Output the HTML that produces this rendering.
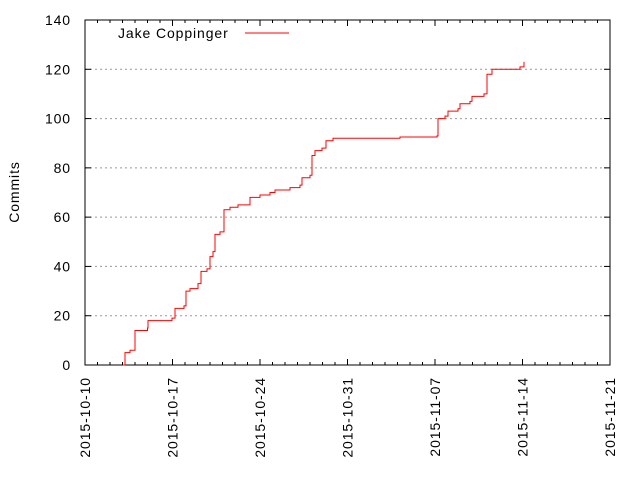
<!DOCTYPE html>
<html><head><meta charset="utf-8"><style>
body{margin:0;background:#fff}
svg{font-family:"Liberation Sans",sans-serif;font-size:14px;letter-spacing:0.9px}
</style></head><body>
<svg id="chart" width="640" height="480"></svg>
<script>
const xTickLabels=["2015-10-10","2015-10-17","2015-10-24","2015-10-31","2015-11-07","2015-11-14","2015-11-21"];
const yTicks=[0,20,40,60,80,100,120,140];
const days=[3.04,3.2,3.6,4.0,5.0,5.04,6.96,7.2,7.92,8.08,8.4,9.04,9.28,9.76,10.0,10.24,10.4,10.8,11.12,11.6,12.24,13.2,14.0,14.8,15.2,16.4,17.2,17.36,18.0,18.16,18.4,18.96,19.28,19.84,25.2,28.16,28.24,28.8,29.04,29.84,30.0,30.8,30.96,31.92,32.16,32.56,34.8,35.12];
const commits=[0,5,6,14,15,18,19,23,24,30,31,33,38,39,44,46,53,54,63,64,65,68,69,70,71,72,73,76,77,85,87,88,91,92,92.5,93,100,101,103,104,106,107,109,110,118,120,121,123];
const svg=document.getElementById('chart');
const NS='http://www.w3.org/2000/svg';
const L=85,R=610,T=20,B=365;
const xs=d=>L+(R-L)*d/42;
const ys=v=>B-(B-T)*v/140;
function mk(t,a){const e=document.createElementNS(NS,t);for(const k in a)e.setAttribute(k,a[k]);svg.appendChild(e);return e;}
yTicks.forEach(v=>{
  const y=ys(v);
  if(v>0&&v<140){const g=mk('line',{x1:L,x2:R,y1:y,y2:y,stroke:'#999','stroke-dasharray':'2,3','stroke-width':1});
  
  }
  mk('line',{x1:L,x2:L+6,y1:y,y2:y,stroke:'#000'});
  mk('line',{x1:R,x2:R-6,y1:y,y2:y,stroke:'#000'});
  const t=mk('text',{x:L-14,y:y+5,'text-anchor':'end'});t.textContent=v;
  
  
});
for(let dd=1;dd<42;dd++){
  if(dd%7===0)continue;
  const x=xs(dd);
  mk('line',{x1:x,x2:x,y1:B,y2:B-3,stroke:'#000'});
  mk('line',{x1:x,x2:x,y1:T,y2:T+3,stroke:'#000'});
}
xTickLabels.forEach((s,i)=>{
  const x=xs(i*7);
  mk('line',{x1:x,x2:x,y1:B,y2:B-6,stroke:'#000'});
  mk('line',{x1:x,x2:x,y1:T,y2:T+6,stroke:'#000'});
  const t=mk('text',{x:x+5,y:B+12,'text-anchor':'end',transform:`rotate(-90 ${x+5} ${B+12})`});t.textContent=s;
  
  
});
const frame=mk('rect',{x:L,y:T,width:R-L,height:B-T,fill:'none',stroke:'#000'});


let d='';
for(let i=0;i<days.length;i++){
  const x=xs(days[i]),y=ys(commits[i]);
  if(i===0)d+=`M${x},${y}`;else d+=`H${x}V${y}`;
}
const line=mk('path',{d:d,fill:'none',stroke:'#f00','stroke-width':1});


const yl=mk('text',{x:19,y:192,'text-anchor':'middle',transform:'rotate(-90 19 192)'});yl.textContent='Commits';


const lt=mk('text',{x:118,y:38});lt.textContent='Jake Coppinger';


const ll=mk('line',{x1:245,x2:289,y1:33,y2:33,stroke:'#f00'});


</script>
</body></html>
